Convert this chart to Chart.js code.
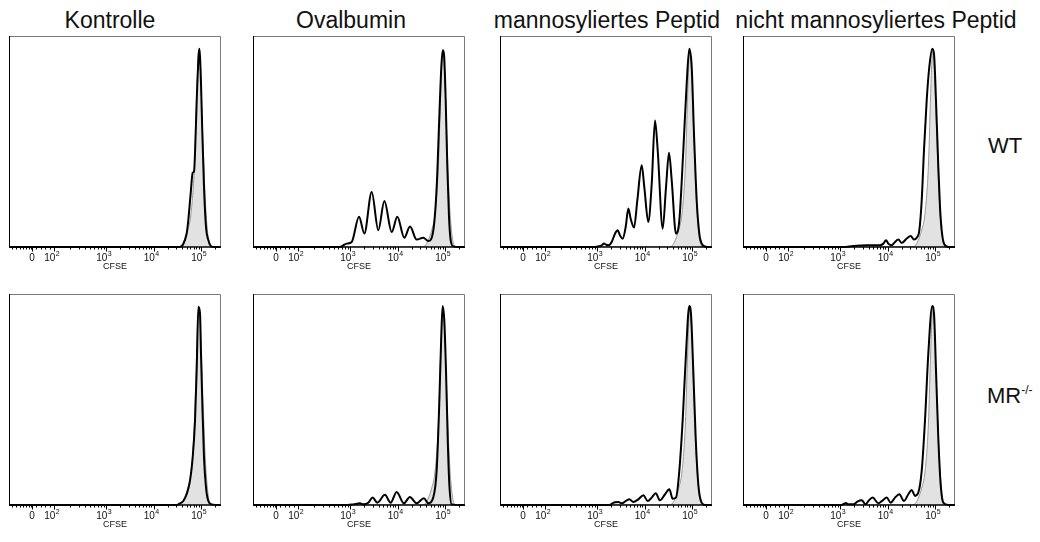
<!DOCTYPE html>
<html>
<head>
<meta charset="utf-8">
<script src="https://cdn.jsdelivr.net/npm/chart.js@4.4.1/dist/chart.umd.min.js"></script>
<style>
  body { margin: 0; background: #fff; width: 1040px; height: 542px; position: relative; overflow: hidden;
         font-family: "Liberation Sans", Arial, sans-serif; color: #111; }
  canvas { position: absolute; }
  .title { position: absolute; top: 9px; font-size: 23px; line-height: 23px; white-space: nowrap; transform: translateX(-50%); }
  .row { position: absolute; font-size: 22px; line-height: 22px; white-space: nowrap; }
  .row span { font-size: 12px; position: relative; top: -9px; }
</style>
</head>
<body>
<div id="root"></div>
<script>
// x values are CFSE in decades (log10); y is % of max
const columnTitles = ['Kontrolle', 'Ovalbumin', 'mannosyliertes Peptid', 'nicht mannosyliertes Peptid'];
const rowLabels = ['WT', 'MR'];
const rowLabelSup = ['', '-/-'];
const xAxisLabel = 'CFSE';
const tickValues = [1.442, 1.905, 3, 4, 5];
const tickBase = ['0', '10', '10', '10', '10'];
const tickExp = ['', '2', '3', '4', '5'];

// grey filled control histogram (unstimulated), same in every panel
const controlX = [0.958, 4.50, 4.579, 4.649, 4.720, 4.790, 4.860, 4.916, 4.952, 4.986, 5.036, 5.091, 5.142, 5.190, 5.246, 5.421];
const controlY = [0, 0, 0.5, 3.3, 8, 15.9, 37.9, 77.2, 93.2, 85, 53.6, 22.2, 6.5, 0.9, 0, 0];

// WT row
const wtKontrolleX = [0.958, 4.55, 4.615, 4.699, 4.733, 4.783, 4.825, 4.853, 4.874, 4.910, 4.950, 4.965, 4.980, 5.000, 5.028, 5.063, 5.105, 5.154, 5.204, 5.259, 5.421];
const wtKontrolleY = [0, 0, 0.9, 6.5, 12.8, 25.5, 35.2, 35.7, 44.4, 69.7, 91, 94, 90, 77.6, 53.9, 28.6, 9.6, 3.3, 0.5, 0, 0];

const wtOvalbuminX = [0.958, 2.79, 2.859, 2.930, 3.036, 3.190, 3.302, 3.457, 3.596, 3.723, 3.878, 3.996, 4.143, 4.263, 4.404, 4.543, 4.649, 4.754, 4.825, 4.880, 4.922, 4.952, 4.979, 5.015, 5.049, 5.084, 5.120, 5.175, 5.316, 5.421];
const wtOvalbuminY = [0, 0, 0.8, 1.6, 2.4, 14.3, 6.4, 26.1, 7.9, 21.8, 7.1, 14.3, 4.4, 9.7, 3.5, 4.4, 2.8, 7.9, 28.5, 61.5, 85.1, 93.2, 91.3, 69.2, 37.7, 14.3, 3.1, 0.3, 0, 0];

const wtMannX = [0.958, 2.958, 3.028, 3.099, 3.147, 3.190, 3.238, 3.309, 3.379, 3.435, 3.484, 3.540, 3.604, 3.659, 3.709, 3.779, 3.849, 3.941, 3.996, 4.080, 4.152, 4.221, 4.278, 4.383, 4.453, 4.516, 4.573, 4.663, 4.733, 4.817, 4.888, 4.943, 4.994, 5.042, 5.099, 5.154, 5.204, 5.310, 5.421];
const wtMannY = [0, 0, 0.3, 0.8, 1.6, 1.1, 0.8, 2.4, 6.3, 7.9, 5.5, 3.9, 9.5, 18.2, 13.4, 9.2, 22.1, 38.7, 28.4, 11.8, 30, 60, 45.8, 8.7, 28.4, 44.7, 31.6, 6.3, 12.6, 45.8, 77.4, 94, 85.3, 53.7, 22.1, 6.3, 1.6, 0, 0];

const wtNichtX = [0.958, 3.070, 3.280, 3.562, 3.842, 3.912, 3.969, 4.017, 4.088, 4.158, 4.228, 4.299, 4.404, 4.488, 4.558, 4.615, 4.670, 4.720, 4.768, 4.825, 4.880, 4.943, 4.979, 5.021, 5.070, 5.105, 5.141, 5.190, 5.280, 5.421];
const wtNichtY = [0, 0, 0.5, 0.8, 0.8, 1.6, 3.2, 1.6, 0.8, 2.4, 3.5, 1.9, 4, 5.2, 3.5, 4.4, 7.9, 22.1, 45.8, 69.5, 85.3, 94, 91.5, 69.5, 37.9, 19, 7.9, 1.6, 0, 0];

// MR-/- row
const mrKontrolleX = [0.958, 4.40, 4.488, 4.558, 4.628, 4.699, 4.768, 4.825, 4.874, 4.909, 4.944, 4.979, 5.000, 5.028, 5.063, 5.105, 5.154, 5.225, 5.421];
const mrKontrolleY = [0, 0, 0, 0.8, 1.9, 5.2, 11.4, 22.5, 40, 63.8, 93.9, 90.8, 71.7, 47.9, 22.5, 8.3, 1.9, 0.3, 0];

const mrOvalbuminX = [0.958, 2.95, 3.070, 3.210, 3.280, 3.385, 3.476, 3.575, 3.735, 3.855, 3.981, 4.135, 4.261, 4.402, 4.556, 4.647, 4.752, 4.824, 4.879, 4.921, 4.950, 4.985, 5.021, 5.056, 5.091, 5.141, 5.316, 5.421];
const mrOvalbuminY = [0, 0, 0.3, 0.8, 0.3, 1.1, 3.5, 1.1, 4.8, 1.1, 6.2, 0.8, 3.8, 0.8, 3.2, 0.8, 3.5, 16.2, 47.9, 79.6, 94.3, 87.6, 63.8, 32.1, 9.8, 0.3, 0, 0];

const mrMannX = [0.958, 3.274, 3.309, 3.379, 3.449, 3.520, 3.625, 3.681, 3.765, 3.870, 3.976, 4.067, 4.152, 4.236, 4.326, 4.432, 4.523, 4.593, 4.663, 4.733, 4.803, 4.873, 4.943, 4.978, 5.027, 5.077, 5.133, 5.189, 5.274, 5.421];
const mrMannY = [0, 0, 0.6, 1.3, 1.4, 0.8, 2.2, 2.7, 1.4, 2.7, 4.6, 1.9, 3.5, 5.6, 2.2, 5.1, 7.5, 3.0, 3.5, 16.2, 40, 71.7, 94.3, 90.8, 63.8, 32.1, 9.8, 1.9, 0, 0];

const mrNichtX = [0.958, 3.036, 3.084, 3.126, 3.175, 3.280, 3.365, 3.456, 3.541, 3.597, 3.688, 3.807, 3.899, 3.983, 4.067, 4.158, 4.249, 4.347, 4.438, 4.509, 4.579, 4.649, 4.720, 4.789, 4.859, 4.943, 4.979, 5.021, 5.069, 5.119, 5.174, 5.280, 5.421];
const mrNichtY = [0, 0, 0.6, 0.9, 0.3, 0.3, 1.6, 2.2, 0.3, 1.9, 3.5, 0.8, 2.2, 3.5, 1.1, 3.5, 5.1, 1.9, 5.1, 7.1, 4.3, 5.9, 16.2, 40, 71.7, 94.3, 90.8, 63.8, 32.1, 9.8, 1.1, 0, 0];

const panels = [
  [[wtKontrolleX, wtKontrolleY], [wtOvalbuminX, wtOvalbuminY], [wtMannX, wtMannY], [wtNichtX, wtNichtY]],
  [[mrKontrolleX, mrKontrolleY], [mrOvalbuminX, mrOvalbuminY], [mrMannX, mrMannY], [mrNichtX, mrNichtY]]
];

// layout
const frameLefts = [9, 253, 500, 743];
const frameTops = [36, 294];
const frameW = 212, frameH = 211;
const titleCenters = [110, 351, 607, 876];
const rowLabelPos = [[988, 135], [987, 385]];
const pad = { left: 15, right: 15, top: 5, bottom: 35 };
const FONT = '"Liberation Sans", Arial, sans-serif';

// minor ticks on the biexponential axis
const minorTicks = [];
[0.03, 0.07, 0.12, 0.18, 0.25, 0.33, 0.42].forEach(d => minorTicks.push(1.442 - d));
[1, 2, 3, 4].forEach(m => minorTicks.push(1.442 + 0.463 * m / 5));
for (let m = 2; m <= 9; m++) minorTicks.push(1.905 + 1.095 * Math.log10(m));
[3, 4].forEach(k => { for (let m = 2; m <= 9; m++) minorTicks.push(k + Math.log10(m)); });
minorTicks.push(5 + Math.log10(2));

const toPoints = (xs, ys) => xs.map((x, i) => ({ x: x, y: ys[i] }));

const flowAxis = {
  id: 'flowAxis',
  afterDatasetsDraw(chart) {
    const ctx = chart.ctx, a = chart.chartArea, x = chart.scales.x;
    ctx.save();
    ctx.lineWidth = 1;
    ctx.strokeStyle = '#7a7a7a';
    ctx.beginPath();
    ctx.moveTo(a.left, a.top + 0.5);
    ctx.lineTo(a.right - 0.5, a.top + 0.5);
    ctx.lineTo(a.right - 0.5, a.bottom);
    ctx.stroke();
    ctx.strokeStyle = '#000';
    ctx.beginPath();
    ctx.moveTo(a.left + 0.5, a.top);
    ctx.lineTo(a.left + 0.5, a.bottom);
    ctx.stroke();
    ctx.lineWidth = 1.5;
    ctx.beginPath();
    ctx.moveTo(a.left, a.bottom);
    ctx.lineTo(a.right, a.bottom);
    ctx.stroke();

    ctx.lineWidth = 1;
    ctx.beginPath();
    minorTicks.forEach(v => {
      const px = Math.round(x.getPixelForValue(v)) + 0.5;
      ctx.moveTo(px, a.bottom);
      ctx.lineTo(px, a.bottom + 2.5);
    });
    tickValues.forEach(v => {
      const px = Math.round(x.getPixelForValue(v)) + 0.5;
      ctx.moveTo(px, a.bottom);
      ctx.lineTo(px, a.bottom + 4.5);
    });
    ctx.stroke();

    ctx.fillStyle = '#111';
    ctx.textBaseline = 'alphabetic';
    ctx.textAlign = 'left';
    tickValues.forEach((v, i) => {
      const px = x.getPixelForValue(v);
      ctx.font = '10px ' + FONT;
      const bw = ctx.measureText(tickBase[i]).width;
      ctx.font = '7px ' + FONT;
      const ew = tickExp[i] ? ctx.measureText(tickExp[i]).width + 0.5 : 0;
      const start = px - (bw + ew) / 2 - (tickExp[i] ? 2 : 0);
      ctx.font = '10px ' + FONT;
      ctx.fillText(tickBase[i], start, a.bottom + 14);
      if (tickExp[i]) {
        ctx.font = '7px ' + FONT;
        ctx.fillText(tickExp[i], start + bw + 0.5, a.bottom + 8.5);
      }
    });
    ctx.font = '9px ' + FONT;
    ctx.textAlign = 'center';
    ctx.fillText(xAxisLabel, (a.left + a.right) / 2, a.bottom + 21.5);
    ctx.restore();
  }
};

const root = document.getElementById('root');

columnTitles.forEach((t, c) => {
  const d = document.createElement('div');
  d.className = 'title';
  d.style.left = titleCenters[c] + 'px';
  d.textContent = t;
  root.appendChild(d);
});

rowLabels.forEach((t, r) => {
  const d = document.createElement('div');
  d.className = 'row';
  d.style.left = rowLabelPos[r][0] + 'px';
  d.style.top = rowLabelPos[r][1] + 'px';
  d.textContent = t;
  if (rowLabelSup[r]) {
    const s = document.createElement('span');
    s.textContent = rowLabelSup[r];
    d.appendChild(s);
  }
  root.appendChild(d);
});

panels.forEach((row, r) => {
  row.forEach((series, c) => {
    const canvas = document.createElement('canvas');
    canvas.width = frameW + pad.left + pad.right;
    canvas.height = frameH + pad.top + pad.bottom;
    canvas.style.left = (frameLefts[c] - pad.left) + 'px';
    canvas.style.top = (frameTops[r] - pad.top) + 'px';
    root.appendChild(canvas);

    new Chart(canvas, {
      type: 'line',
      data: {
        datasets: [{
          label: columnTitles[c],
          data: toPoints(series[0], series[1]),
          borderColor: '#000',
          borderWidth: 2,
          pointRadius: 0,
          fill: false,
          cubicInterpolationMode: 'monotone',
          clip: false,
          order: 0
        }, {
          label: 'Kontrolle (unstimuliert)',
          data: toPoints(controlX, controlY),
          borderColor: '#9a9a9a',
          borderWidth: 1,
          backgroundColor: '#e2e2e2',
          pointRadius: 0,
          fill: 'origin',
          cubicInterpolationMode: 'monotone',
          order: 1
        }]
      },
      options: {
        responsive: false,
        animation: false,
        layout: { padding: pad },
        scales: {
          x: { type: 'linear', min: 0.958, max: 5.421, display: false },
          y: { min: 0, max: 100, display: false }
        },
        plugins: {
          legend: { display: false },
          tooltip: { enabled: false }
        }
      },
      plugins: [flowAxis]
    });
  });
});
</script>
</body>
</html>
